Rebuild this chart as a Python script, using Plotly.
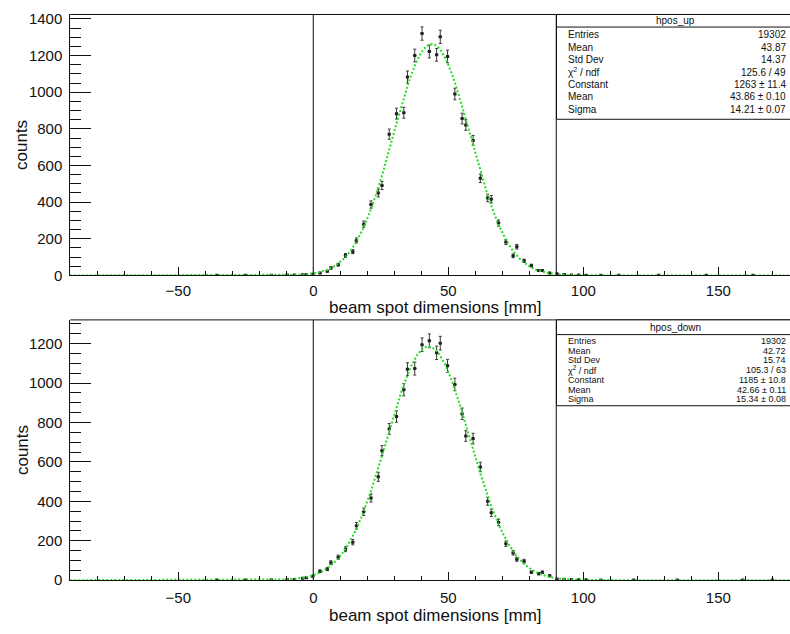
import numpy as np
import plotly.graph_objects as go

W, H = 790, 634

# ---------------- data ----------------
bin_x = [2.475, 5.175, 6.525, 9.225, 11.925, 14.625, 15.975, 18.675, 21.375, 24.075,
         25.425, 28.125, 30.825, 33.525, 34.875, 37.575, 40.275, 42.975, 45.675, 47.025,
         49.725, 52.425, 55.125, 56.475, 59.175, 61.875, 64.575, 65.925, 68.625, 71.325,
         74.025, 75.375, 78.075, 80.775, 83.475, 84.825, 87.525, 90.225]

up_counts = [13, 23, 41, 59, 109, 130, 191, 280, 387, 450,
             491, 771, 883, 888, 1083, 1200, 1320, 1222, 1204, 1302,
             1195, 990, 856, 821, 737, 530, 423, 416, 286, 182,
             107, 157, 80, 54, 27, 27, 13, 9]

down_counts = [45, 56, 89, 116, 157, 193, 276, 347, 417, 524,
               657, 767, 830, 966, 1070, 1073, 1194, 1214, 1153, 1202,
               1087, 993, 844, 731, 718, 574, 400, 342, 293, 185,
               139, 106, 96, 40, 33, 40, 23, 6]

up_tail_x = [-35.775, -25.025, -15.575, -9.675, -6.975, -3.925, -2.575, -0.225,
             92.925, 95.625, 98.325, 101.025, 106.425, 113.175, 127.925, 145.575, 162.825]
up_tail_counts = [1, 1, 1, 2, 3, 4, 5, 7,
                  5, 3, 2, 1, 1, 1, 1, 1, 1]

down_tail_x = [-35.775, -25.025, -15.575, -9.675, -6.975, -3.925, -2.575, -0.225,
               92.925, 95.625, 98.325, 101.025, 106.425, 118.575, 134.775, 159.075, 170.025]
down_tail_counts = [1, 1, 2, 3, 4, 10, 12, 20,
                    5, 4, 2, 2, 1, 1, 1, 1, 1]

BIN_HALF = 0.675

up_fit = dict(const=1263.0, mean=43.86, sigma=14.21)
down_fit = dict(const=1185.0, mean=42.66, sigma=15.34)

stat_labels = ["Entries", "Mean", "Std Dev", "\u03c7<sup>2</sup> / ndf", "Constant", "Mean", "Sigma"]
up_stat_values = ["19302", "43.87", "14.37", "125.6 / 49", "1263 \u00b1 11.4", "43.86 \u00b1 0.10", "14.21 \u00b1 0.07"]
down_stat_values = ["19302", "42.72", "15.74", "105.3 / 63", "1185 \u00b1 10.8", "42.66 \u00b1 0.11", "15.34 \u00b1 0.08"]

x_ticks = [-50, 0, 50, 100, 150]
detector_edges = [0, 90]

# ---------------- helpers ----------------
def fx(px):
    return px / W

def fy(py):
    return 1 - py / H

FONT = "Liberation Sans, Arial, Helvetica, sans-serif"
X_LEFT_PX = 70.3
PX_PER_MM = 2.70
X_MIN = -90.0
X_MAX = X_MIN + (W - X_LEFT_PX) / PX_PER_MM

panels = [
    dict(name="hpos_up", x=up_tail_x[:8] + bin_x + up_tail_x[8:],
         y=up_tail_counts[:8] + up_counts + up_tail_counts[8:],
         fit=up_fit, stats=up_stat_values, top=10.7, bottom=276.7, ymax=1424,
         box_bottom=117.5, box_sep=23.5, header=16.8, row0=31.5, rowstep=12.65,
         stat_font=10, title_y=309.0, label_standoff=2),
    dict(name="hpos_down", x=down_tail_x[:8] + bin_x + down_tail_x[8:],
         y=down_tail_counts[:8] + down_counts + down_tail_counts[8:],
         fit=down_fit, stats=down_stat_values, top=322.0, bottom=587.3, ymax=1320,
         box_bottom=409.5, box_sep=337.0, header=329.3, row0=343.5, rowstep=9.9,
         stat_font=9, title_y=623.0, label_standoff=4),
]

fig = go.Figure()
shapes = []
annotations = []

xfit = np.linspace(X_MIN, 180, 1200)

for i, p in enumerate(panels):
    xa = "x" if i == 0 else "x2"
    ya = "y" if i == 0 else "y2"
    cnt = np.array(p["y"], dtype=float)
    fig.add_trace(go.Scatter(
        x=p["x"], y=p["y"], mode="markers", xaxis=xa, yaxis=ya,
        marker=dict(symbol="square", size=3, color="#222222"),
        error_y=dict(type="data", array=np.sqrt(cnt), color="#3a3a3a", thickness=1, width=1.5),
        error_x=dict(type="constant", value=BIN_HALF, color="#3a3a3a", thickness=1, width=0),
        showlegend=False, hoverinfo="skip", cliponaxis=True))
    f = p["fit"]
    yfit = f["const"] * np.exp(-0.5 * ((xfit - f["mean"]) / f["sigma"]) ** 2)
    fig.add_trace(go.Scatter(
        x=xfit, y=yfit, mode="lines", xaxis=xa, yaxis=ya,
        line=dict(color="#22dd22", width=2, dash="2px,2px"),
        showlegend=False, hoverinfo="skip"))

    # detector edge lines
    for e in detector_edges:
        shapes.append(dict(type="line", xref=xa, yref=ya + " domain", x0=e, x1=e, y0=0, y1=1,
                           line=dict(color="#333333", width=1.2), layer="above"))
    # frame top border
    shapes.append(dict(type="line", xref="paper", yref="paper", x0=fx(X_LEFT_PX), x1=1.0,
                       y0=fy(p["top"]), y1=fy(p["top"]), line=dict(color="#111111", width=1)))
    # stats box
    bx0 = fx(556.5)
    shapes.append(dict(type="rect", xref="paper", yref="paper", x0=bx0, x1=1.02,
                       y0=fy(p["box_bottom"]), y1=fy(p["top"]),
                       fillcolor="white", line=dict(color="#111111", width=1), layer="above"))
    shapes.append(dict(type="line", xref="paper", yref="paper", x0=bx0, x1=1.02,
                       y0=fy(p["box_sep"]), y1=fy(p["box_sep"]),
                       line=dict(color="#111111", width=1), layer="above"))
    annotations.append(dict(xref="paper", yref="paper", x=fx(675), y=fy(p["header"]),
                            text=p["name"], showarrow=False, xanchor="center", yanchor="middle",
                            font=dict(family=FONT, size=10, color="#111111")))
    for k, (lab, val) in enumerate(zip(stat_labels, p["stats"])):
        yy = fy(p["row0"] + k * p["rowstep"])
        annotations.append(dict(xref="paper", yref="paper", x=fx(566), y=yy, text=lab,
                                showarrow=False, xanchor="left", yanchor="middle",
                                font=dict(family=FONT, size=p["stat_font"], color="#111111")))
        annotations.append(dict(xref="paper", yref="paper", x=fx(788), y=yy, text=val,
                                showarrow=False, xanchor="right", yanchor="middle",
                                font=dict(family=FONT, size=p["stat_font"], color="#111111")))
    # axis titles
    annotations.append(dict(xref="paper", yref="paper", x=fx(435), y=fy(p["title_y"]),
                            text="beam spot dimensions [mm]", showarrow=False,
                            xanchor="center", yanchor="middle",
                            font=dict(family=FONT, size=17, color="#111111")))
    annotations.append(dict(xref="paper", yref="paper", x=fx(22),
                            y=fy((p["top"] + p["bottom"]) / 2),
                            text="counts", showarrow=False, textangle=-90,
                            xanchor="center", yanchor="middle",
                            font=dict(family=FONT, size=17, color="#111111")))

def xaxis_cfg(anchor, p):
    return dict(domain=[fx(X_LEFT_PX), 1.0], range=[X_MIN, X_MAX], anchor=anchor,
                tickmode="array", tickvals=x_ticks, ticks="inside", ticklen=8,
                tickcolor="#111111", tickwidth=1, showline=True, linecolor="#111111",
                linewidth=1, showgrid=False, zeroline=False,
                minor=dict(ticks="inside", ticklen=4, dtick=10, tick0=0,
                           tickcolor="#111111", tickwidth=1, showgrid=False),
                ticklabelstandoff=p["label_standoff"],
                tickfont=dict(family=FONT, size=15, color="#111111"))

def yaxis_cfg(anchor, p):
    return dict(domain=[fy(p["bottom"]), fy(p["top"])], range=[0, p["ymax"]], anchor=anchor,
                dtick=200, tick0=0, ticks="inside", ticklen=21, tickcolor="#111111",
                tickwidth=1, showline=True, linecolor="#111111", linewidth=1,
                showgrid=False, zeroline=False,
                minor=dict(ticks="inside", ticklen=11, dtick=50, tick0=0,
                           tickcolor="#111111", tickwidth=1, showgrid=False),
                ticklabelstandoff=4,
                tickfont=dict(family=FONT, size=15, color="#111111"))

fig.update_layout(
    width=W, height=H, margin=dict(l=0, r=0, t=0, b=0),
    paper_bgcolor="white", plot_bgcolor="white",
    xaxis=xaxis_cfg("y", panels[0]), yaxis=yaxis_cfg("x", panels[0]),
    xaxis2=xaxis_cfg("y2", panels[1]), yaxis2=yaxis_cfg("x2", panels[1]),
    shapes=shapes, annotations=annotations, showlegend=False,
)

fig.write_html("out.html")
